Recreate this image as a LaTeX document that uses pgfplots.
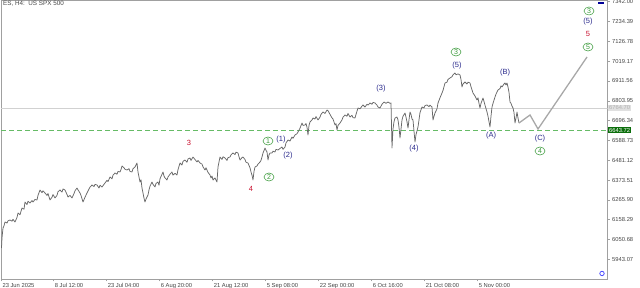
\documentclass[border=0pt]{standalone}
\usepackage{fontspec}
\setmainfont{Liberation Sans}
\usepackage{pgfplots}
\pgfplotsset{compat=1.18}
\usetikzlibrary{shapes.geometric}
\definecolor{pricegray}{HTML}{686868}
\definecolor{projgray}{HTML}{A8A8A8}
\definecolor{wblue}{HTML}{2A2A8C}
\definecolor{wred}{HTML}{C8102E}
\definecolor{wgreen}{HTML}{3A9A3A}
\definecolor{dashgreen}{HTML}{66BB66}
\definecolor{framegray}{HTML}{A0A0A0}
\definecolor{labgray}{HTML}{444444}
\definecolor{boxgreen}{HTML}{0B6E0B}
\tikzset{
  wl/.style={font=\fontsize{7.5}{8}\selectfont, inner sep=0pt},
  circ/.style={ellipse, draw=wgreen, text=wgreen, inner sep=0pt, minimum width=10pt, minimum height=8pt, line width=0.5pt, font=\fontsize{7}{7}\selectfont},
}
\begin{document}
\begin{tikzpicture}
\path[use as bounding box] (-1pt,-9pt) rectangle (639pt,279pt);
\begin{axis}[
  at={(0pt,0pt)}, anchor=south west,
  scale only axis, width=606.7pt, height=279pt,
  xmin=1, xmax=607.7, ymin=5836, ymax=7351.2,
  axis line style={framegray, line width=0.5pt},
  ytick pos=right, xtick pos=bottom, tick align=outside,
  major tick length=2.5pt,
  tick style={framegray, line width=0.4pt},
  ytick={5943.07,6050.68,6158.29,6265.90,6373.51,6481.12,6588.73,6696.34,6803.95,6911.56,7019.17,7126.78,7234.39,7342.00},
  yticklabels={5943.07,6050.68,6158.29,6265.90,6373.51,6481.12,6588.73,6696.34,6803.95,6911.56,7019.17,7126.78,7234.39,7342.00},
  yticklabel style={font=\fontsize{5.8}{6}\selectfont, text=labgray, anchor=west, xshift=-1.5pt},
  xtick={1,53.3,106.3,159.3,212.3,265.3,318.3,371.3,424.3,477.3},
  xticklabels={23 Jun 2025,8 Jul 12:00,23 Jul 04:00,6 Aug 20:00,21 Aug 12:00,5 Sep 08:00,22 Sep 00:00,6 Oct 16:00,21 Oct 08:00,5 Nov 00:00},
  xticklabel style={font=\fontsize{5.8}{6}\selectfont, text=labgray, anchor=north west, xshift=-2pt, yshift=2pt},
  clip mode=individual,
]
% reference lines
\addplot[draw=black!18, line width=0.4pt] coordinates {(1,6764.7) (607.7,6764.7)};
\addplot[draw=dashgreen, line width=0.6pt, dash pattern=on 5pt off 3pt] coordinates {(1,6643.72) (607.7,6643.72)};
% price
\addplot[draw=pricegray, line width=0.75pt, line join=round] coordinates {
(1.5,6004.3) (2,6060) (3,6112.9) (4,6125) (5,6145.5) (7,6140) (8,6152) (10,6156.4) (12,6150) (13,6160)
(15,6145.5) (17,6170) (18,6194.4) (20,6185) (22,6221.6) (24,6215) (25,6254.1) (27,6240) (28,6258) (30,6248.7)
(32,6262) (33,6254.1) (35,6268) (37,6265.0) (38,6290) (40,6319.3) (42,6305) (43,6315) (45,6303.0) (47,6290)
(48,6300) (50,6265.0) (52,6280) (53,6295) (55,6275.9) (57,6290) (58,6310) (60,6319.3) (62,6308) (63,6325)
(65,6319.3) (67,6295) (68,6281.3) (70,6290) (72,6275.9) (74,6300) (75,6315) (77,6330.2) (78,6320) (80,6303.0)
(81,6290) (83,6254.1) (85,6280) (87,6303.0) (89,6325) (90,6335) (92,6346.5) (94,6338) (95,6350) (97,6346.5)
(99,6330) (100,6345) (102,6335.6) (104,6350) (105,6357.5) (107,6372) (108,6365) (110,6389.9) (112,6380) (113,6400)
(115,6411.6) (117,6405) (118,6420) (120,6417.1) (121,6430) (122,6449.6) (124,6440) (125,6432) (127,6427.9) (129,6435)
(130,6420) (132,6417.1) (133,6435) (135,6444.2) (136,6455) (137,6465.9) (138,6417.1) (139,6390) (140,6362.8) (141,6375)
(142,6330) (143,6303.0) (144,6275) (145,6254.1) (146,6270) (148,6292.2) (149,6320) (150,6340) (152,6362.8) (153,6350)
(155,6335.6) (156,6355) (158,6362.8) (159,6345) (160,6380) (162,6405) (163,6417.1) (164,6395) (165,6385) (167,6373.6)
(168,6390) (170,6405) (172,6417.1) (173,6400) (175,6410) (177,6400.8) (178,6430) (180,6465.9) (182,6455) (183,6475)
(185,6482.2) (187,6470) (188,6488) (190,6493.1) (191,6480) (193,6498.5) (195,6485) (197,6471.4) (198,6480) (200,6465.9)
(202,6460) (203,6445) (205,6427.9) (206,6440) (208,6415) (210,6400.8) (211,6385) (212,6395) (213,6373.6) (215,6385)
(217,6362.8) (218,6444.2) (220,6498.5) (222,6485) (223,6500) (225,6493.1) (227,6480) (228,6495) (230,6498.5) (231,6510)
(233,6520.2) (235,6512) (236,6525) (238,6520.2) (239,6500) (240,6482.2) (242,6495) (243,6498.5) (245,6485) (246,6470)
(248,6465.9) (250,6440) (251,6417.1) (252,6400) (253,6373.6) (254,6420) (255,6444.2) (257,6450) (258,6460) (260,6471.4)
(261,6480) (262,6498.5) (263,6520) (265,6547.4) (266,6535) (267,6525.7) (268,6482.2) (269,6510) (270,6520) (272,6520.2)
(273,6530) (275,6525.7) (276,6540) (278,6536.5) (280,6545) (282,6552.8) (283,6540) (285,6552.8) (286,6575) (288,6590.9)
(290,6585) (292,6607.1) (293,6600) (295,6618.0) (297,6625) (298,6634.3) (300,6655) (302,6683.2) (303,6670) (305,6672.4)
(306,6680) (307,6660) (308,6618.0) (309,6670) (310,6688.6) (312,6700) (313,6710.5) (315,6705) (316,6718) (318,6699.5)
(320,6715) (321,6730) (323,6743.0) (325,6735) (327,6753.8) (328,6750) (330,6730) (332,6710.5) (333,6705) (335,6672.4)
(336,6680) (337,6645.1) (338,6670) (340,6683.2) (342,6700) (343,6715) (345,6726.6) (347,6720) (348,6735) (350,6715.8)
(352,6725) (353,6712) (355,6710.5) (356,6730) (358,6764.7) (360,6760) (362,6775) (363,6781.0) (365,6770) (367,6785)
(368,6780) (370,6791.8) (372,6785) (373,6795) (375,6791.8) (377,6780) (378,6770) (380,6764.7) (382,6785) (384,6797.2)
(386,6790) (388,6797.2) (390,6790) (391,6791.8) (392,6547.4) (393,6650.6) (394,6690) (395,6710) (397,6715.8) (398,6700)
(399,6660) (400,6601.7) (401,6650) (402,6699.5) (403,6720) (405,6737.5) (406,6715) (407,6690) (408,6656.0) (409,6700)
(410,6743.0) (411,6730) (412,6705) (413,6699.5) (414,6640) (415,6580.0) (416,6620) (418,6661.5) (419,6700) (420,6740)
(422,6770.1) (424,6765) (425,6778) (427,6781.0) (429,6772) (430,6780) (432,6770.1) (433,6699.5) (434,6720) (435,6737.5)
(437,6760) (438,6791.8) (440,6820) (442,6846.1) (443,6860) (445,6900.5) (447,6905) (448,6920) (450,6927.6) (452,6935)
(453,6945) (455,6954.7) (456,6945) (458,6950) (460,6943.9) (461,6920) (462,6878.7) (463,6895) (465,6905.9) (467,6895)
(468,6905) (470,6900.5) (471,6880) (473,6846.1) (475,6830) (477,6808.1) (478,6820) (479,6790) (480,6764.7) (481,6790)
(483,6818.9) (484,6800) (485,6780) (487,6743.0) (488,6720) (489,6690) (490,6661.5) (491,6720) (492,6770.1) (493,6790)
(495,6824.4) (496,6840) (498,6862.4) (500,6870) (501,6885) (502,6878.7) (504,6895) (505,6900.5) (506,6890) (507,6900)
(508,6878.7) (509,6850) (510,6797.2) (511,6790) (512,6775) (513,6764.7) (514,6740) (515,6683.2) (516,6710) (517,6743.0)
(518,6710) (519,6683.2)
};
% projection
\addplot[draw=projgray, line width=1.3pt] coordinates {(519,6683.2) (530,6726.6) (538,6650.6) (587,7041.6)};
% wave labels
\node[wl, text=wred] at (axis cs:189,6574.6) {3};
\node[wl, text=wred] at (axis cs:251,6324.7) {4};
\node[circ] at (axis cs:268,6585.4) {1};
\node[wl, text=wblue] at (axis cs:281,6590.9) {(1)};
\node[wl, text=wblue] at (axis cs:288,6504.0) {(2)};
\node[circ] at (axis cs:269,6389.9) {2};
\node[wl, text=wblue] at (axis cs:381,6867.8) {(3)};
\node[wl, text=wblue] at (axis cs:414,6542.0) {(4)};
\node[circ] at (axis cs:456,7068.8) {3};
\node[wl, text=wblue] at (axis cs:457,6992.8) {(5)};
\node[wl, text=wblue] at (axis cs:491,6612.6) {(A)};
\node[wl, text=wblue] at (axis cs:505,6954.7) {(B)};
\node[wl, text=wblue] at (axis cs:540,6596.3) {(C)};
\node[circ] at (axis cs:540,6531.1) {4};
\node[circ] at (axis cs:589,7291.5) {3};
\node[wl, text=wblue] at (axis cs:588,7231.7) {(5)};
\node[wl, text=wred] at (axis cs:588,7166.5) {5};
\node[circ] at (axis cs:588,7095.9) {5};
% price boxes on the right scale
\node[anchor=west, fill=black!12, text=black!30, inner sep=0.8pt, font=\fontsize{5.8}{6}\selectfont] at (axis cs:608.2,6764.7) {6764.70};
\node[anchor=west, fill=boxgreen, text=white, inner sep=0.8pt, font=\fontsize{5.8}{6}\selectfont] at (axis cs:608.2,6643.72) {6643.72};
% title
\node[anchor=north west, font=\fontsize{6.3}{7}\selectfont, text=labgray, inner sep=0pt] at (axis cs:3,7346) {ES, H4:\ \ US SPX 500};
% small chart icons
\draw[blue!70, line width=0.8pt] (axis cs:602,5866) circle (2.2pt);
\fill[blue!60!black] (axis cs:598,7328) rectangle (axis cs:604,7338);
\end{axis}
\end{tikzpicture}
\end{document}
